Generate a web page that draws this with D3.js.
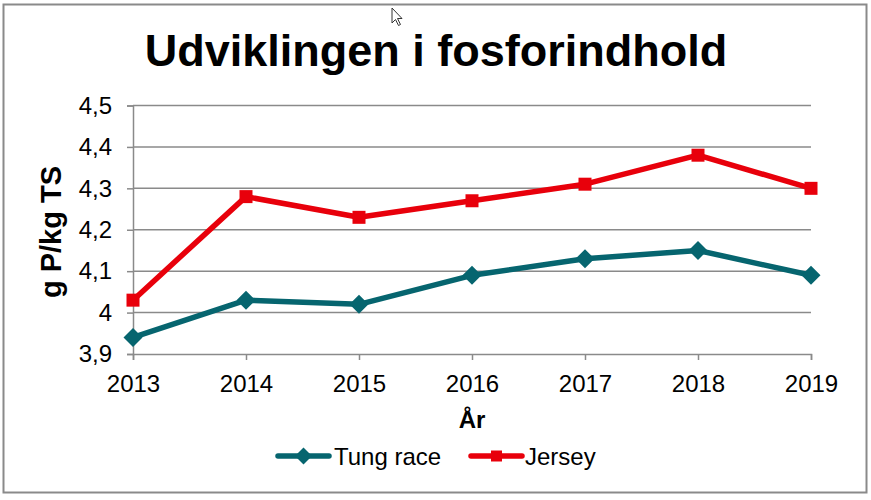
<!DOCTYPE html>
<html><head><meta charset="utf-8">
<script src="https://cdn.jsdelivr.net/npm/d3@7"></script>
<style>body{margin:0;background:#fff}svg{display:block;font-family:"Liberation Sans",Arial,sans-serif}</style>
</head><body><svg id="c" width="871" height="500"></svg>
<script>
const years = ["2013","2014","2015","2016","2017","2018","2019"];
const tungRace = [3.94, 4.03, 4.02, 4.09, 4.13, 4.15, 4.09];
const jersey = [4.03, 4.28, 4.23, 4.27, 4.31, 4.38, 4.30];
const yTicks = [3.9, 4.0, 4.1, 4.2, 4.3, 4.4, 4.5];
const seriesNames = ["Tung race", "Jersey"];
const seriesColors = ["#06656f", "#e8000b"];

const svg = d3.select("#c");
svg.append("rect").attr("x",3.5).attr("y",4.5).attr("width",863).attr("height",488)
  .attr("fill","#fff").attr("stroke","#8a8a8a").attr("stroke-width",2);

const x = d3.scalePoint().domain(years).range([133, 811]);
const y = d3.scaleLinear().domain([3.9, 4.5]).range([354, 105.5]);
const fmt = d => d3.format(".1f")(d).replace(".", ",").replace(/,0$/, "");

const ya = svg.append("g").attr("transform","translate(133,0)")
  .call(d3.axisLeft(y).tickValues(yTicks).tickSize(6).tickPadding(15).tickFormat(fmt));
ya.select(".domain").attr("stroke","#8a8a8a").attr("stroke-width",1.5);
ya.selectAll(".tick line").attr("stroke","#8a8a8a").attr("stroke-width",1.5);
ya.selectAll(".tick text").attr("font-size",24).attr("fill","#000").attr("font-family","Liberation Sans, Arial");
svg.append("g").selectAll("line").data(yTicks.slice(1)).join("line")
  .attr("x1",133).attr("x2",811).attr("y1",d=>y(d)).attr("y2",d=>y(d))
  .attr("stroke","#8a8a8a").attr("stroke-width",1.5);

const xa = svg.append("g").attr("transform","translate(0,354)")
  .call(d3.axisBottom(x).tickSize(6).tickPadding(15));
xa.select(".domain").attr("stroke","#8a8a8a").attr("stroke-width",1.5);
xa.selectAll(".tick line").attr("stroke","#8a8a8a").attr("stroke-width",1.5);
xa.selectAll(".tick text").attr("font-size",24).attr("fill","#000").attr("font-family","Liberation Sans, Arial");

svg.append("text").attr("x",436).attr("y",66).attr("text-anchor","middle")
  .attr("font-size",45).attr("font-weight","bold").text("Udviklingen i fosforindhold");
svg.append("text").attr("transform","translate(61,232) rotate(-90)").attr("text-anchor","middle")
  .attr("font-size",29).attr("font-weight","bold").text("g P/kg TS");
svg.append("text").attr("x",472).attr("y",428).attr("text-anchor","middle")
  .attr("font-size",24).attr("font-weight","bold").text("År");

const line = d3.line().x((d,i)=>x(years[i])).y(d=>y(d));
const diamond = (cx,cy,r) => `M${cx},${cy-r}L${cx+r},${cy}L${cx},${cy+r}L${cx-r},${cy}Z`;
const square = (cx,cy,s) => `M${cx-s/2},${cy-s/2}h${s}v${s}h${-s}Z`;

[tungRace, jersey].forEach((vals, k) => {
  const g = svg.append("g");
  g.append("path").attr("d", line(vals)).attr("fill","none")
    .attr("stroke", seriesColors[k]).attr("stroke-width",5.5).attr("stroke-linejoin","round");
  g.selectAll("path.m").data(vals).join("path").attr("class","m")
    .attr("d",(d,i)=> k===0 ? diamond(x(years[i]), y(d), 9.5) : square(x(years[i]), y(d), 13))
    .attr("fill", seriesColors[k]);
});

const leg = [{x1:278,x2:329,tx:334},{x1:471,x2:522,tx:525}];
seriesNames.forEach((n,k) => {
  const L = leg[k], cy = 456, cx = (L.x1+L.x2)/2;
  svg.append("line").attr("x1",L.x1).attr("x2",L.x2).attr("y1",cy).attr("y2",cy)
    .attr("stroke",seriesColors[k]).attr("stroke-width",5.5).attr("stroke-linecap","round");
  svg.append("path").attr("d", k===0 ? diamond(cx,cy,8.5) : square(cx,cy,11)).attr("fill",seriesColors[k]);
  svg.append("text").attr("x",L.tx).attr("y",cy+8.5).attr("font-size",24).text(n);
});

svg.append("path").attr("d","M392,8 L392,23 L395.5,19.5 L398.5,25.5 L400.5,24.5 L397.5,18.5 L402,18.5 Z")
  .attr("fill","#fff").attr("stroke","#333").attr("stroke-width",1);
</script></body></html>
